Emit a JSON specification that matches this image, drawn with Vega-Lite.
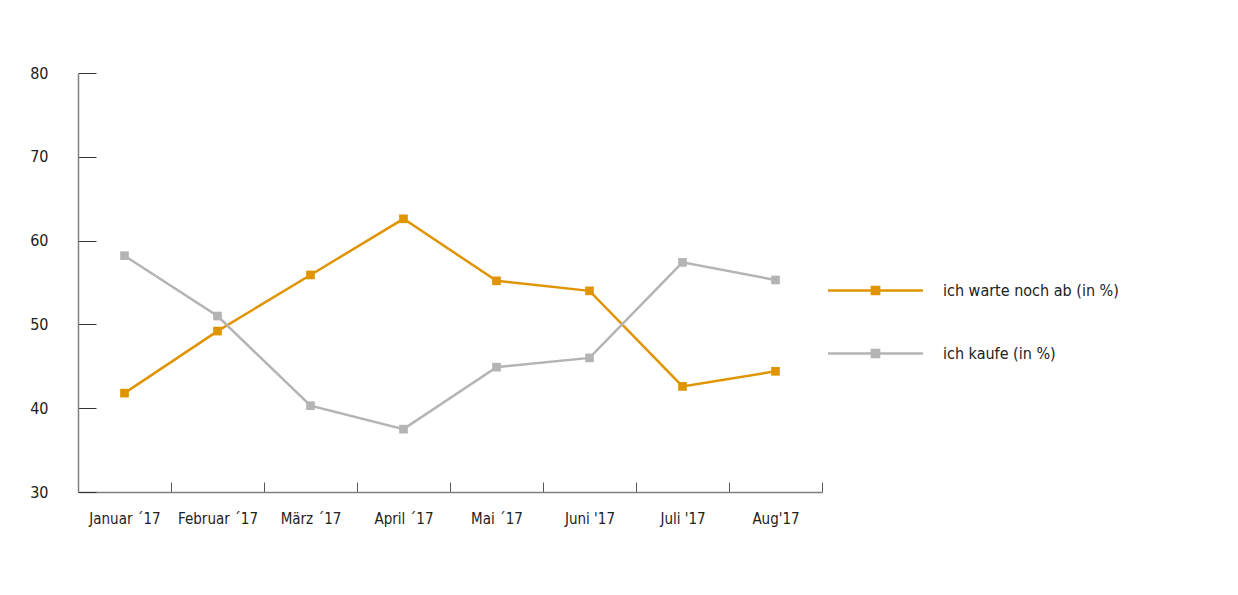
{
  "$schema": "https://vega.github.io/schema/vega-lite/v6.json",
  "width": 744,
  "height": 419,
  "autosize": {"type": "none"},
  "padding": {"left": 78, "top": 73, "right": 416, "bottom": 103},
  "background": "white",
  "config": {
    "view": {"stroke": null},
    "font": "DejaVu Sans Condensed",
    "axis": {"labelFont": "DejaVu Sans Condensed", "labelFontSize": 15, "labelColor": "#222", "grid": false, "title": null}
  },
  "data": {
    "values": [
      {"month": "Januar ´17", "series": "ich warte noch ab (in %)", "value": 41.8},
      {"month": "Februar ´17", "series": "ich warte noch ab (in %)", "value": 49.2},
      {"month": "März ´17", "series": "ich warte noch ab (in %)", "value": 55.9},
      {"month": "April ´17", "series": "ich warte noch ab (in %)", "value": 62.6},
      {"month": "Mai ´17", "series": "ich warte noch ab (in %)", "value": 55.2},
      {"month": "Juni '17", "series": "ich warte noch ab (in %)", "value": 54.0},
      {"month": "Juli '17", "series": "ich warte noch ab (in %)", "value": 42.6},
      {"month": "Aug'17", "series": "ich warte noch ab (in %)", "value": 44.4},
      {"month": "Januar ´17", "series": "ich kaufe (in %)", "value": 58.2},
      {"month": "Februar ´17", "series": "ich kaufe (in %)", "value": 51.0},
      {"month": "März ´17", "series": "ich kaufe (in %)", "value": 40.3},
      {"month": "April ´17", "series": "ich kaufe (in %)", "value": 37.5},
      {"month": "Mai ´17", "series": "ich kaufe (in %)", "value": 44.9},
      {"month": "Juni '17", "series": "ich kaufe (in %)", "value": 46.0},
      {"month": "Juli '17", "series": "ich kaufe (in %)", "value": 57.4},
      {"month": "Aug'17", "series": "ich kaufe (in %)", "value": 55.3}
    ]
  },
  "mark": {"type": "line", "strokeWidth": 2.5, "point": {"shape": "square", "size": 75, "filled": true, "opacity": 1}},
  "encoding": {
    "x": {
      "field": "month",
      "type": "ordinal",
      "sort": null,
      "scale": {"type": "band", "paddingInner": 0, "paddingOuter": 0},
      "axis": {
        "labelAngle": 0,
        "tickBand": "extent",
        "tickSize": -10,
        "tickColor": "#555",
        "domainColor": "#808080",
        "domainWidth": 1.5,
        "labelPadding": 36,
        "labelBaseline": "middle"
      }
    },
    "y": {
      "field": "value",
      "type": "quantitative",
      "scale": {"domain": [30, 80], "nice": false, "zero": false},
      "axis": {
        "values": [30, 40, 50, 60, 70, 80],
        "tickSize": -18,
        "tickColor": "#333",
        "domainColor": "#808080",
        "domainWidth": 1.5,
        "labelPadding": 48,
        "labelFontSize": 16,
        "labelBaseline": "middle"
      }
    },
    "color": {
      "field": "series",
      "type": "nominal",
      "scale": {"domain": ["ich warte noch ab (in %)", "ich kaufe (in %)"], "range": ["#E09400", "#B4B4B4"]},
      "legend": {
        "title": null,
        "orient": "none",
        "legendX": 786,
        "legendY": 206,
        "symbolType": "M-4.75,0H4.75M-0.36,-0.36H0.36V0.36H-0.36Z",
        "symbolSize": 400,
        "symbolStrokeWidth": 2.5,
        "labelFont": "DejaVu Sans Condensed",
        "labelFontSize": 16,
        "labelColor": "#222",
        "labelOffset": 56,
        "labelLimit": 400,
        "rowPadding": 42
      }
    }
  }
}
